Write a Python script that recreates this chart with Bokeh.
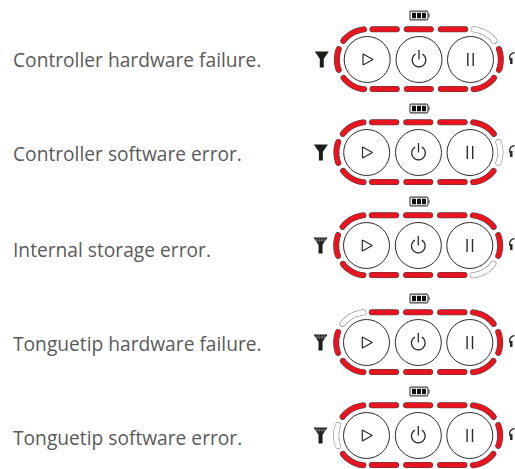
import numpy as np
from bokeh.plotting import figure
from bokeh.models import Range1d
from bokeh.embed import file_html
from bokeh.resources import INLINE
from bokeh.core.properties import value

messages = ["Controller hardware failure.", "Controller software error.", "Internal storage error.",
            "Tonguetip hardware failure.", "Tonguetip software error."]
unlit_segment = ["top_right", "right", "bottom_right", "top_left", "left"]
antenna_grid = [False, False, True, True, True]
row_y = [59, 152, 245, 342, 435]
row_dx = [0, -0.5, -0.7, -0.7, -0.7]
text_y = [59, 153, 249, 343, 437]

RED = "#e8141f"
DARK = "#2b2b2b"
LX, CX, RX = 366.7, 418.5, 470.0
R_RING = 30.3
R_BTN = 23.0

p = figure(width=515, height=469, output_backend="svg", toolbar_location=None,
           x_range=Range1d(0, 515), y_range=Range1d(469, 0), min_border=0,
           outline_line_color=None, background_fill_color="white", border_fill_color="white")
p.xaxis.visible = False
p.yaxis.visible = False
p.grid.visible = False


def arc(cx, cy, r, a0, a1):
    t = np.radians(np.linspace(a0, a1, 30))
    return list(cx + r * np.cos(t)), list(cy - r * np.sin(t))


def segments(d, y):
    top, bot = y - R_RING, y + R_RING - 0.8
    return {
        "top_left": arc(LX + d, y, R_RING, 142, 96),
        "top_a": ([372 + d, 396.3 + d], [top, top]),
        "top_b": ([406.3 + d, 430.3 + d], [top, top]),
        "top_c": ([440.3 + d, 464.7 + d], [top, top]),
        "top_right": arc(RX + d, y, R_RING, 84, 38),
        "right": arc(RX + d, y, R_RING, 20, -20),
        "bottom_right": arc(RX + d, y, R_RING - 0.4, -38, -84),
        "bottom_c": ([440.3 + d, 464.7 + d], [bot, bot]),
        "bottom_b": ([406.3 + d, 430.3 + d], [bot, bot]),
        "bottom_a": ([372 + d, 396.3 + d], [bot, bot]),
        "bottom_left": arc(LX + d, y, R_RING - 0.4, -142, -96),
        "left": arc(LX + d, y, R_RING, 160, 200),
    }


for i, msg in enumerate(messages):
    y = row_y[i]
    d = row_dx[i]
    p.text([12.5], [text_y[i]], text=[msg], text_font=value("Open Sans"), text_font_size="19.2px",
           text_color="#5a5a5a", text_baseline="middle", text_align="left")

    for name, (xs, ys) in segments(d, y).items():
        lit = name != unlit_segment[i]
        p.line(xs, ys, line_width=6.0, line_color="#444444" if lit else "#777777", line_cap="round")
        p.line(xs, ys, line_width=5.0, line_color=RED if lit else "white", line_cap="round")

    # buttons
    p.circle([LX + d, CX + d, RX + d], [y] * 3, radius=R_BTN, fill_color="white", line_color=DARK, line_width=1)
    # play
    p.patch([362.5 + d, 362.5 + d, 372.5 + d], [y - 5.5, y + 5.5, y], fill_color=None, line_color=DARK, line_width=1.2)
    # power
    xs, ys = arc(CX + d, y + 0.5, 6.8, 60, -240)
    p.line(xs, ys, line_color=DARK, line_width=1.3)
    p.line([CX + d, CX + d], [y - 9.5, y], line_color=DARK, line_width=1.3)
    # pause
    p.line([467.3 + d, 467.3 + d], [y - 6.5, y + 6.5], line_color=DARK, line_width=1.4)
    p.line([472.7 + d, 472.7 + d], [y - 6.5, y + 6.5], line_color=DARK, line_width=1.4)
    # battery
    by = y - 44
    p.patch([410, 426.5, 427.5, 427.5, 426.5, 410, 409.5, 409.5],
            [by - 4.4, by - 4.4, by - 3, by + 3, by + 4.4, by + 4.4, by + 3.4, by - 3.4],
            fill_color="white", line_color="#444444", line_width=1.2)
    p.line([428.6, 428.6], [by - 1.8, by + 1.8], line_color="#444444", line_width=1)
    for bx in (411.5, 416.5, 421.5):
        p.quad(left=[bx], right=[bx + 4], top=[by - 2.7], bottom=[by + 2.7], fill_color="#111111", line_color=None)
    # antenna
    ax = 321.3 + d * 1.8
    p.patch([ax - 7, ax + 7, ax + 2, ax + 2, ax - 2, ax - 2], [y - 8, y - 8, y - 0.7, y + 8, y + 8, y - 0.7],
            fill_color="#1c1c1c", line_color=None)
    if antenna_grid[i]:
        for gx in (-3.8, -1.3, 1.3, 3.8):
            p.line([ax + gx, ax + gx], [y - 8, y - 3], line_color="#999999", line_width=0.6)
        p.line([ax - 6, ax + 6], [y - 5.3, y - 5.3], line_color="#999999", line_width=0.6)
    # headset
    xs, ys = arc(514, y - 2, 4.8, 90, 215)
    p.line(xs, ys, line_color=DARK, line_width=1.4)
    p.quad(left=[509.5], right=[512], top=[y - 1.5], bottom=[y + 4.5], fill_color=DARK, line_color=None)

open("out.html", "w").write(file_html(p, INLINE))
